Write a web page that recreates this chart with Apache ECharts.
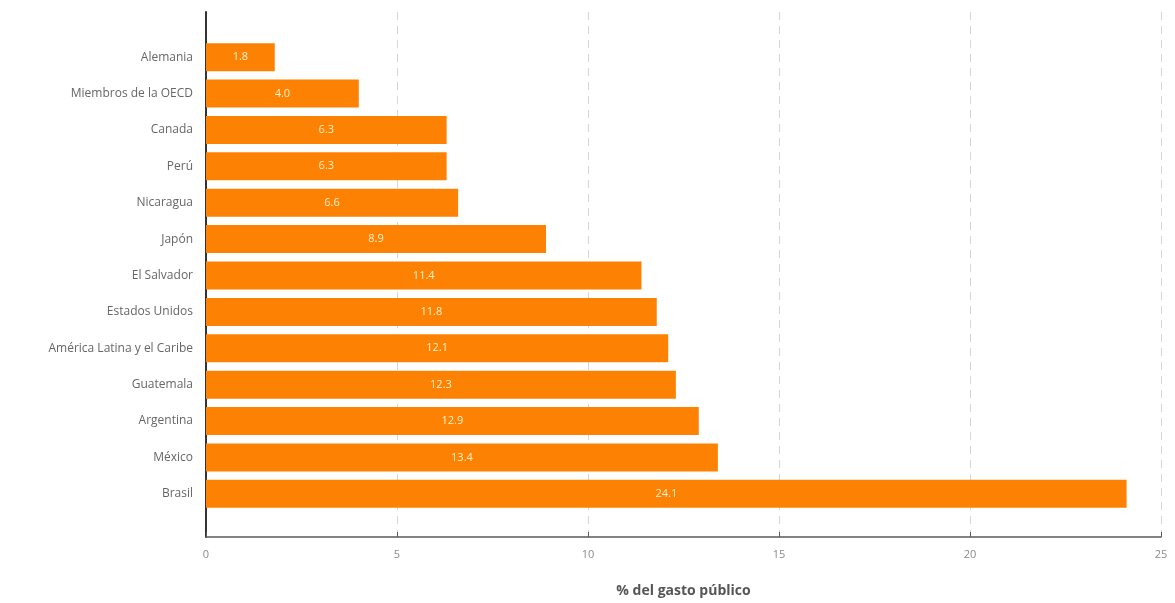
<!DOCTYPE html>
<html>
<head>
<meta charset="utf-8">
<style>
  html, body { margin: 0; padding: 0; background: #ffffff; }
  #chart { width: 1175px; height: 603px; }
</style>
<script src="https://cdn.jsdelivr.net/npm/echarts@6/dist/echarts.min.js"></script>
</head>
<body>
<div id="chart"></div>
<script>
// Gasto público por país (% del gasto público)
const categories = [
  'Alemania', 'Miembros de la OECD', 'Canada', 'Perú', 'Nicaragua', 'Japón',
  'El Salvador', 'Estados Unidos', 'América Latina y el Caribe', 'Guatemala',
  'Argentina', 'México', 'Brasil'
];
const values = [1.8, 4.0, 6.3, 6.3, 6.6, 8.9, 11.4, 11.8, 12.1, 12.3, 12.9, 13.4, 24.1];
const xTicks = { min: 0, max: 25, interval: 5 };
const axisTitle = '% del gasto público';

const font = '"Open Sans", "Noto Sans", sans-serif';
const chart = echarts.init(document.getElementById('chart'));

chart.setOption({
  backgroundColor: '#ffffff',
  animation: false,
  grid: [
    // frame: value axis, split lines and the left axis line
    { left: 206, right: 14, top: 12, bottom: 62 },
    // bars and category labels
    { left: 206, right: 14, top: 39, bottom: 91 }
  ],
  xAxis: [
    {
      gridIndex: 0,
      type: 'value',
      min: xTicks.min, max: xTicks.max, interval: xTicks.interval,
      name: axisTitle,
      nameLocation: 'middle',
      nameGap: 47,
      nameTextStyle: { fontFamily: font, fontSize: 14, fontWeight: 'bold', color: '#555555' },
      axisLine: { show: true, lineStyle: { color: '#5a5a5a', width: 1.5 } },
      axisTick: { show: true, inside: true, length: 5, lineStyle: { color: '#5a5a5a' } },
      axisLabel: { fontFamily: font, fontSize: 11, color: '#8a8a8a', margin: 12 },
      splitLine: { show: true, lineStyle: { color: '#d6d6d6', type: [8, 6], width: 1 } }
    },
    {
      gridIndex: 1,
      type: 'value',
      min: xTicks.min, max: xTicks.max, interval: xTicks.interval,
      show: false
    }
  ],
  yAxis: [
    {
      gridIndex: 0,
      type: 'value',
      min: 0, max: 1,
      axisLine: { show: true, lineStyle: { color: '#333333', width: 2 } },
      axisTick: { show: false },
      axisLabel: { show: false },
      splitLine: { show: false }
    },
    {
      gridIndex: 1,
      type: 'category',
      data: categories,
      inverse: true,
      axisLine: { show: false },
      axisTick: { show: false },
      axisLabel: { fontFamily: font, fontSize: 12, color: '#666666', margin: 13 },
      splitLine: { show: false }
    }
  ],
  series: [
    {
      type: 'bar',
      xAxisIndex: 1,
      yAxisIndex: 1,
      data: values,
      barCategoryGap: '23%',
      itemStyle: { color: '#fd8204' },
      label: {
        show: true,
        position: 'inside',
        formatter: p => p.value.toFixed(1),
        fontFamily: font,
        fontSize: 11,
        color: '#fff0c8'
      }
    }
  ]
});
</script>
</body>
</html>
